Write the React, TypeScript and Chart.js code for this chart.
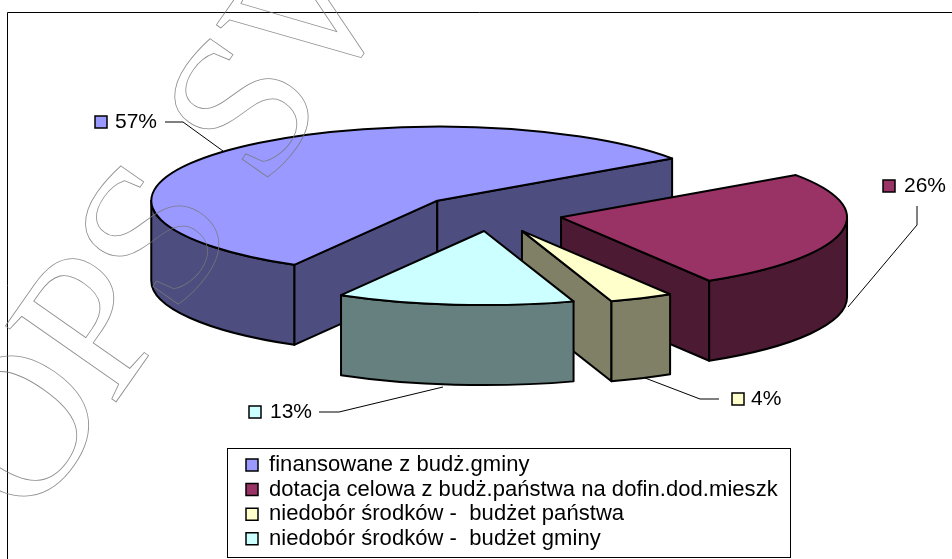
import React, { useEffect, useRef } from "react";
import { Chart, registerables } from "chart.js";

Chart.register(...registerables);

const categories = [
  "finansowane z budż.gminy",
  "dotacja celowa z budż.państwa na dofin.dod.mieszk",
  "niedobór środków -  budżet państwa",
  "niedobór środków -  budżet gminy",
];
const shares = [57, 26, 3.6, 13.4];
const topColors = ["#9999FF", "#993366", "#FFFFCC", "#CCFFFF"];
const wallColors = ["#4D4D80", "#4D1A33", "#808066", "#668080"];
const explosion = [73, 71.6, 74, 68];

const FONT = '"Liberation Sans", Arial, sans-serif';
const PIE = { cx: 491, cy: 213.5, tilt: 0.259, depth: 80, radius: 286, rotation: 210 };
const LEGEND_BOX = { x: 227.5, y: 448.5, w: 563, h: 109 };
const LEGEND_PAD = 2.6;
const LEGEND_FONT = 22;
const callouts = [
  { box: [95, 116], text: [115, 122], line: [[165, 122], [183, 122], [223, 151]] },
  { box: [883, 180], text: [904, 186], line: [[917, 206], [917, 225], [848, 307]] },
  { box: [732, 393], text: [751, 399], line: [[719, 399], [700, 399], [645, 378]] },
  { box: [249, 406], text: [270, 412], line: [[319, 412], [339, 412], [443, 387]] },
];

const pie3d = {
  id: "pie3d",
  beforeDraw(chart: any) {
    const { ctx, width, height } = chart;
    ctx.save();
    ctx.fillStyle = "#fff";
    ctx.fillRect(0, 0, width, height);
    ctx.strokeStyle = "#000";
    ctx.lineWidth = 1;
    ctx.beginPath();
    ctx.moveTo(7.5, height);
    ctx.lineTo(7.5, 12.5);
    ctx.lineTo(width, 12.5);
    ctx.stroke();
    ctx.strokeRect(LEGEND_BOX.x, LEGEND_BOX.y, LEGEND_BOX.w, LEGEND_BOX.h);
    ctx.restore();
    ctx.letterSpacing = "0.05px";
  },
  afterLayout(chart: any) {
    const l = chart.legend;
    if (!l) return;
    const w = l.width, h = l.height;
    l.left = 246 - LEGEND_PAD;
    l.top = 465 - LEGEND_FONT / 2 - LEGEND_PAD;
    l.right = l.left + w;
    l.bottom = l.top + h;
  },
  beforeDatasetDraw(chart: any, args: any) {
    const { ctx } = chart;
    const arcs = chart.getDatasetMeta(args.index).data;
    const { tilt, depth } = PIE;
    arcs.forEach((arc: any, i: number) => {
      const { startAngle: a0, endAngle: a1, outerRadius: R } = arc;
      const mid = (a0 + a1) / 2;
      const cx = PIE.cx + explosion[i] * Math.cos(mid);
      const cy = PIE.cy + explosion[i] * Math.sin(mid) * tilt;
      const ry = R * tilt;
      const px = (a: number) => cx + R * Math.cos(a);
      const py = (a: number) => cy + ry * Math.sin(a);
      ctx.save();
      ctx.lineWidth = 2;
      ctx.strokeStyle = "#000";
      ctx.lineJoin = "round";
      const paint = (fill: string) => {
        ctx.closePath();
        ctx.fillStyle = fill;
        ctx.fill();
        ctx.stroke();
      };
      const face = (a: number) => {
        ctx.beginPath();
        ctx.moveTo(cx, cy);
        ctx.lineTo(px(a), py(a));
        ctx.lineTo(px(a), py(a) + depth);
        ctx.lineTo(cx, cy + depth);
        paint(wallColors[i]);
      };
      if (Math.cos(a0) < 0) face(a0);
      if (Math.cos(a1) > 0) face(a1);
      for (let k = -1; k <= 1; k++) {
        const lo = Math.max(a0, 2 * Math.PI * k);
        const hi = Math.min(a1, 2 * Math.PI * k + Math.PI);
        if (hi <= lo) continue;
        ctx.beginPath();
        ctx.ellipse(cx, cy, R, ry, 0, lo, hi);
        ctx.lineTo(px(hi), py(hi) + depth);
        ctx.ellipse(cx, cy + depth, R, ry, 0, hi, lo, true);
        paint(wallColors[i]);
      }
      ctx.beginPath();
      ctx.moveTo(cx, cy);
      ctx.ellipse(cx, cy, R, ry, 0, a0, a1);
      paint(topColors[i]);
      ctx.restore();
    });
    return false;
  },
  afterDraw(chart: any) {
    const { ctx } = chart;
    ctx.letterSpacing = "0px";
    ctx.save();
    ctx.font = `21px ${FONT}`;
    ctx.textBaseline = "middle";
    shares.forEach((v, i) => {
      const c = callouts[i];
      ctx.strokeStyle = "#000";
      ctx.lineWidth = 1;
      ctx.beginPath();
      c.line.forEach(([x, y], k) => (k ? ctx.lineTo(x, y) : ctx.moveTo(x, y)));
      ctx.stroke();
      ctx.fillStyle = topColors[i];
      ctx.lineWidth = 1.5;
      ctx.fillRect(c.box[0], c.box[1], 12, 12);
      ctx.strokeRect(c.box[0], c.box[1], 12, 12);
      ctx.fillStyle = "#000";
      ctx.fillText(`${Math.round(v)}%`, c.text[0], c.text[1]);
    });
    // outlined watermark
    ctx.translate(30, 525);
    ctx.rotate((-55 * Math.PI) / 180);
    ctx.font = '205px "Liberation Serif", serif';
    ctx.fontKerning = "none";
    ctx.letterSpacing = "-5px";
    ctx.textBaseline = "alphabetic";
    ctx.lineWidth = 0.8;
    ctx.strokeStyle = "rgba(120,120,120,0.85)";
    ctx.strokeText("OPS SW", 0, 0);
    ctx.restore();
    ctx.letterSpacing = "0px";
  },
};

export default function App() {
  const ref = useRef<HTMLCanvasElement>(null);
  useEffect(() => {
    const chart = new Chart(ref.current as any, {
      type: "pie",
      data: {
        labels: categories,
        datasets: [
          {
            data: shares,
            backgroundColor: topColors,
            borderColor: "#000",
            borderWidth: 1.5,
          },
        ],
      },
      options: {
        responsive: false,
        animation: false,
        radius: PIE.radius,
        rotation: PIE.rotation,
        layout: { padding: 0 },
        plugins: {
          tooltip: { enabled: false },
          legend: {
            position: "chartArea",
            align: "start",
            labels: {
              boxWidth: 12,
              boxHeight: 12,
              padding: LEGEND_PAD,
              color: "#000",
              font: { family: FONT, size: LEGEND_FONT },
            },
          },
        },
      } as any,
      plugins: [pie3d],
    });
    return () => chart.destroy();
  }, []);
  return (
    <canvas
      ref={ref}
      width={952}
      height={559}
      style={{ position: "fixed", left: 0, top: 0, display: "block" }}
    />
  );
}
